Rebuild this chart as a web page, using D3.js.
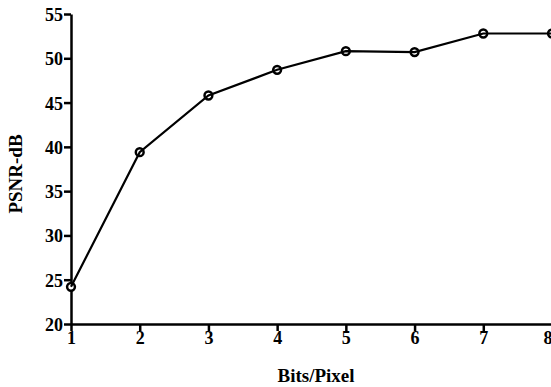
<!DOCTYPE html>
<html>
<head>
<meta charset="utf-8">
<script src="https://cdn.jsdelivr.net/npm/d3@7"></script>
<style>
  html, body { margin: 0; padding: 0; background: #fff; overflow: hidden; }
  svg { display: block; }
  .axis path, .axis line { stroke: #000; stroke-width: 2.5px; }
</style>
</head>
<body>
<figure id="chart" style="margin:0"></figure>
<script>
// Bits per pixel vs PSNR
const bits = [1, 2, 3, 4, 5, 6, 7, 8];
const psnr = [24.2, 39.4, 45.8, 48.7, 50.8, 50.7, 52.8, 52.8];
const yTicks = [20, 25, 30, 35, 40, 45, 50, 55];

const width = 551, height = 387;
const margin = { top: 14, right: 0, bottom: 63, left: 71 };
const font = '"Liberation Serif", "Times New Roman", serif';

const svg = d3.select("figure#chart")
  .append("svg")
  .attr("width", width)
  .attr("height", height);

const x = d3.scaleLinear()
  .domain([1, 8])
  .range([margin.left, width + 1]);

const y = d3.scaleLinear()
  .domain([20, 55])
  .range([height - margin.bottom, margin.top]);

const xAxis = svg.append("g")
  .attr("class", "axis")
  .attr("transform", "translate(0," + (height - margin.bottom) + ")")
  .call(d3.axisBottom(x).tickValues(bits).tickFormat(d3.format("d")).tickSize(7).tickSizeOuter(0));
xAxis.selectAll("text")
  .attr("font-family", font).attr("font-weight", "bold").attr("font-size", 18)
  .attr("fill", "#000").attr("y", 6).attr("dy", "0.8em")
  .attr("text-anchor", d => d === 8 ? "end" : "middle");

const yAxis = svg.append("g")
  .attr("class", "axis")
  .attr("transform", "translate(" + margin.left + ",0)")
  .call(d3.axisLeft(y).tickValues(yTicks).tickSize(7).tickSizeOuter(0));
yAxis.selectAll("text")
  .attr("font-family", font).attr("font-weight", "bold").attr("font-size", 18)
  .attr("fill", "#000").attr("x", -8).attr("dy", "0.36em");

const line = d3.line()
  .x((d, i) => x(bits[i]))
  .y(d => y(d));

svg.selectAll("circle.pt")
  .data(psnr)
  .enter().append("circle")
  .attr("class", "pt")
  .attr("cx", (d, i) => x(bits[i]))
  .attr("cy", d => y(d))
  .attr("r", 3.9)
  .attr("fill", "#fff")
  .attr("stroke", "#000")
  .attr("stroke-width", 2.5);

svg.append("path")
  .datum(psnr)
  .attr("fill", "none")
  .attr("stroke", "#000")
  .attr("stroke-width", 2.2)
  .attr("d", line);

svg.append("text")
  .attr("x", 316)
  .attr("y", 382)
  .attr("text-anchor", "middle")
  .attr("font-family", font).attr("font-weight", "bold").attr("font-size", 19)
  .text("Bits/Pixel");

svg.append("text")
  .attr("transform", "translate(22,174) rotate(-90)")
  .attr("text-anchor", "middle")
  .attr("font-family", font).attr("font-weight", "bold").attr("font-size", 19)
  .text("PSNR-dB");
</script>
</body>
</html>
